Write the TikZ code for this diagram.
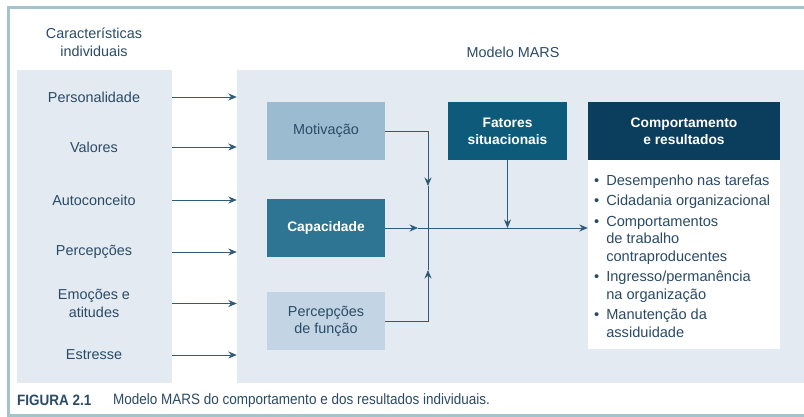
\documentclass[tikz,border=0pt]{standalone}
\usepackage{fontspec}
\setmainfont{Liberation Sans}
\newfontfamily\capfont[FakeStretch=0.9]{Liberation Sans}
\usetikzlibrary{arrows.meta,positioning,calc}

\definecolor{framec}{HTML}{A3C4CA}
\definecolor{panelc}{HTML}{E3EAF2}
\definecolor{txtc}{HTML}{2A4A66}
\definecolor{motc}{HTML}{9BBCD0}
\definecolor{capc}{HTML}{2E7594}
\definecolor{pfunc}{HTML}{C3D5E4}
\definecolor{fatc}{HTML}{0E5A7A}
\definecolor{compc}{HTML}{0B3D5D}
\definecolor{linec}{HTML}{2F5B78}

\begin{document}
\begin{tikzpicture}[
    x=1pt, y=-1pt,
    panel/.style={rectangle, fill=panelc, inner sep=0pt},
    item/.style={font=\fontsize{14.4}{17.5}\selectfont, text=txtc, align=center},
    box/.style={rectangle, minimum width=118pt, minimum height=58pt, align=center,
        font=\fontsize{14.4}{17}\selectfont, inner sep=0pt},
    light/.style={box, fill=motc, text=txtc},
    dark/.style={box, fill=capc, text=white, font=\fontsize{13.8}{17}\selectfont\bfseries},
    arrow/.style={draw=linec, line width=0.8pt, -{Stealth[length=8.5pt,width=7pt]}},
    plain/.style={draw=linec, line width=0.8pt}
]
\useasboundingbox (0,0) rectangle (804,417);

% Frame
\draw[framec, line width=3pt] (806,8) -- (8,8) -- (8,415) -- (806,415);

% Titles
\node[item] (tcar) at (94,42.5) {Características\\individuais};
\node[item] (tmars) at (513,52) {Modelo MARS};

% Panels
\node[panel, minimum width=155pt, minimum height=313pt] (car) at (94.5,226.5) {};
\node[panel, minimum width=570pt, minimum height=313pt] (mars) at (522,226.5) {};

% Individual characteristics
\node[item] (pers) at (94,97) {Personalidade};
\node[item] (val) at (94,147) {Valores};
\node[item] (auto) at (94,200) {Autoconceito};
\node[item] (perc) at (94,252) {Percepções};
\node[item] (emo) at (94,303.5) {Emoções e\\atitudes};
\node[item] (estr) at (94,355) {Estresse};

% Characteristics -> MARS
\foreach \n in {pers,val,auto,perc,emo,estr}
    \draw[arrow] (car.east |- \n) -- (mars.west |- \n);

% MARS boxes
\node[light] (mot) at (326,131) {Motivação};
\node[dark] (cap) at (326,228) {Capacidade};
\node[light, fill=pfunc] (pfun) at (326,321) {Percepções\\de função};
\node[dark, fill=fatc, minimum width=119pt] (fat) at (507.5,131) {Fatores\\situacionais};
\node[dark, fill=compc, minimum width=192pt] (comp) at (684,131) {Comportamento\\e resultados};

% Results list
\node[rectangle, fill=white, minimum width=192pt, minimum height=189pt,
    anchor=north, inner sep=0pt] (res) at (comp.south) {};
\node[anchor=north west, inner sep=0pt, text=txtc, font=\fontsize{14.6}{17.5}\selectfont]
    (list) at (594,173.5) {%
    \renewcommand{\arraystretch}{1}%
    \begin{tabular}{@{}l@{\hspace{7pt}}l@{}}
    \textbullet & Desempenho nas tarefas\\[2.5pt]
    \textbullet & Cidadania organizacional\\[3pt]
    \textbullet & Comportamentos\\
    & de trabalho\\
    & contraproducentes\\[3pt]
    \textbullet & Ingresso/permanência\\
    & na organização\\[3pt]
    \textbullet & Manutenção da\\
    & assiduidade
    \end{tabular}};

% Connectors
\coordinate (join) at (428,228);
\coordinate (jtop) at (428,186);
\coordinate (jbot) at (428,270);
\coordinate (jcap) at (418,228);
\draw[arrow] (mot.east) -| (jtop);
\draw[plain] (jtop) -- (join);
\draw[arrow] (pfun.east) -| (jbot);
\draw[plain] (jbot) -- (join);
\draw[arrow] (cap.east) -- (jcap);
\draw[arrow] (jcap) -- (res.west |- cap);
\draw[arrow] (fat.south) -- (fat.south |- cap);

% Caption
\node[anchor=west, inner sep=0pt, text=txtc, font=\capfont\fontsize{15}{17}\selectfont\bfseries]
    (fig) at (17,400.5) {FIGURA 2.1};
\node[anchor=west, inner sep=0pt, text=txtc, font=\capfont\fontsize{15}{17}\selectfont]
    (legend) at (113,400.5) {Modelo MARS do comportamento e dos resultados individuais.};

\end{tikzpicture}
\end{document}
